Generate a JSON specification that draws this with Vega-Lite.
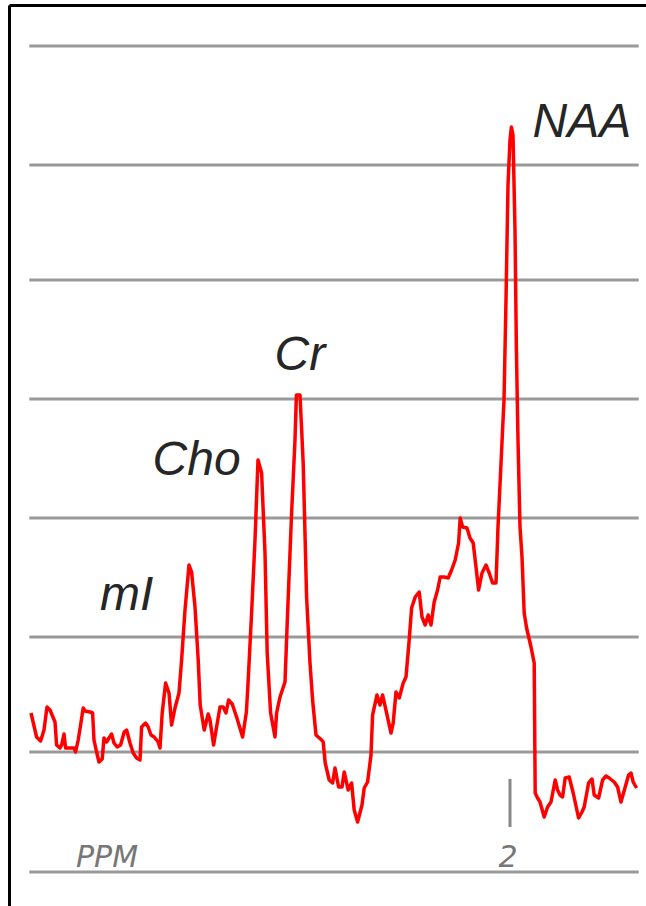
{
  "$schema": "https://vega.github.io/schema/vega-lite/v6.json",
  "width": 637,
  "height": 901,
  "autosize": {"type": "none"},
  "padding": {"left": 9, "top": 5, "right": 0, "bottom": 0},
  "background": "white",
  "config": {
    "view": {"stroke": null},
    "axis": {"title": null, "labels": false, "ticks": false, "grid": false,
             "domain": true, "domainColor": "#000000", "domainWidth": 3}
  },
  "datasets": {
    "grid": [
      {"amp": 706, "from": 4.4035, "to": 1.3565},
      {"amp": 587, "from": 4.4035, "to": 1.3565},
      {"amp": 472, "from": 4.4035, "to": 1.3565},
      {"amp": 353, "from": 4.4035, "to": 1.3565},
      {"amp": 234, "from": 4.4035, "to": 1.3565},
      {"amp": 115, "from": 4.4035, "to": 1.3565},
      {"amp": 0, "from": 4.4035, "to": 1.3565},
      {"amp": -120, "from": 4.4035, "to": 1.3565}
    ],
    "spectrum": [
      {"ppm": 4.395, "amp": 39}, {"ppm": 4.367, "amp": 15}, {"ppm": 4.347, "amp": 11}, {"ppm": 4.33, "amp": 22},
      {"ppm": 4.315, "amp": 45}, {"ppm": 4.3, "amp": 42}, {"ppm": 4.275, "amp": 30}, {"ppm": 4.267, "amp": 7},
      {"ppm": 4.25, "amp": 4}, {"ppm": 4.242, "amp": 7}, {"ppm": 4.23, "amp": 18}, {"ppm": 4.222, "amp": 4},
      {"ppm": 4.2, "amp": 4}, {"ppm": 4.179, "amp": 4}, {"ppm": 4.172, "amp": 0}, {"ppm": 4.159, "amp": 12},
      {"ppm": 4.147, "amp": 27}, {"ppm": 4.134, "amp": 44}, {"ppm": 4.125, "amp": 41}, {"ppm": 4.1, "amp": 40},
      {"ppm": 4.087, "amp": 39}, {"ppm": 4.08, "amp": 12}, {"ppm": 4.067, "amp": 0}, {"ppm": 4.055, "amp": -10},
      {"ppm": 4.039, "amp": -7}, {"ppm": 4.03, "amp": 14}, {"ppm": 4.017, "amp": 10}, {"ppm": 4.005, "amp": 14},
      {"ppm": 3.992, "amp": 18}, {"ppm": 3.98, "amp": 9}, {"ppm": 3.964, "amp": 5}, {"ppm": 3.947, "amp": 7},
      {"ppm": 3.929, "amp": 20}, {"ppm": 3.917, "amp": 22}, {"ppm": 3.9, "amp": 9}, {"ppm": 3.884, "amp": -1},
      {"ppm": 3.867, "amp": -6}, {"ppm": 3.85, "amp": -8}, {"ppm": 3.842, "amp": 25}, {"ppm": 3.822, "amp": 29},
      {"ppm": 3.809, "amp": 25}, {"ppm": 3.795, "amp": 17}, {"ppm": 3.779, "amp": 15}, {"ppm": 3.759, "amp": 10},
      {"ppm": 3.75, "amp": 4}, {"ppm": 3.739, "amp": 39}, {"ppm": 3.722, "amp": 69}, {"ppm": 3.705, "amp": 59},
      {"ppm": 3.692, "amp": 27}, {"ppm": 3.675, "amp": 44}, {"ppm": 3.655, "amp": 59}, {"ppm": 3.642, "amp": 92},
      {"ppm": 3.625, "amp": 142}, {"ppm": 3.605, "amp": 187}, {"ppm": 3.592, "amp": 180}, {"ppm": 3.575, "amp": 145},
      {"ppm": 3.559, "amp": 92}, {"ppm": 3.549, "amp": 47}, {"ppm": 3.529, "amp": 22}, {"ppm": 3.509, "amp": 38},
      {"ppm": 3.5, "amp": 32}, {"ppm": 3.482, "amp": 7}, {"ppm": 3.467, "amp": 25}, {"ppm": 3.45, "amp": 45},
      {"ppm": 3.434, "amp": 45}, {"ppm": 3.42, "amp": 39}, {"ppm": 3.407, "amp": 52}, {"ppm": 3.389, "amp": 48},
      {"ppm": 3.367, "amp": 35}, {"ppm": 3.337, "amp": 15}, {"ppm": 3.318, "amp": 40}, {"ppm": 3.309, "amp": 72},
      {"ppm": 3.292, "amp": 139}, {"ppm": 3.275, "amp": 212}, {"ppm": 3.26, "amp": 292}, {"ppm": 3.242, "amp": 279},
      {"ppm": 3.225, "amp": 199}, {"ppm": 3.214, "amp": 99}, {"ppm": 3.197, "amp": 39}, {"ppm": 3.175, "amp": 15},
      {"ppm": 3.167, "amp": 39}, {"ppm": 3.15, "amp": 55}, {"ppm": 3.125, "amp": 70}, {"ppm": 3.112, "amp": 139},
      {"ppm": 3.092, "amp": 239}, {"ppm": 3.075, "amp": 312}, {"ppm": 3.068, "amp": 357}, {"ppm": 3.05, "amp": 357},
      {"ppm": 3.034, "amp": 289}, {"ppm": 3.017, "amp": 155}, {"ppm": 3.0, "amp": 89}, {"ppm": 2.987, "amp": 52},
      {"ppm": 2.97, "amp": 17}, {"ppm": 2.942, "amp": 12}, {"ppm": 2.934, "amp": 10}, {"ppm": 2.924, "amp": -11},
      {"ppm": 2.904, "amp": -28}, {"ppm": 2.887, "amp": -31}, {"ppm": 2.875, "amp": -16}, {"ppm": 2.857, "amp": -35},
      {"ppm": 2.84, "amp": -35}, {"ppm": 2.829, "amp": -20}, {"ppm": 2.809, "amp": -38}, {"ppm": 2.792, "amp": -31},
      {"ppm": 2.779, "amp": -58}, {"ppm": 2.762, "amp": -70}, {"ppm": 2.74, "amp": -53}, {"ppm": 2.729, "amp": -36},
      {"ppm": 2.712, "amp": -30}, {"ppm": 2.695, "amp": -3}, {"ppm": 2.687, "amp": 37}, {"ppm": 2.665, "amp": 57},
      {"ppm": 2.65, "amp": 47}, {"ppm": 2.637, "amp": 57}, {"ppm": 2.617, "amp": 39}, {"ppm": 2.595, "amp": 19},
      {"ppm": 2.584, "amp": 29}, {"ppm": 2.57, "amp": 60}, {"ppm": 2.554, "amp": 54}, {"ppm": 2.534, "amp": 69},
      {"ppm": 2.52, "amp": 75}, {"ppm": 2.504, "amp": 112}, {"ppm": 2.492, "amp": 144}, {"ppm": 2.474, "amp": 155},
      {"ppm": 2.454, "amp": 160}, {"ppm": 2.44, "amp": 135}, {"ppm": 2.424, "amp": 127}, {"ppm": 2.409, "amp": 137},
      {"ppm": 2.395, "amp": 127}, {"ppm": 2.379, "amp": 150}, {"ppm": 2.362, "amp": 162}, {"ppm": 2.349, "amp": 175},
      {"ppm": 2.33, "amp": 175}, {"ppm": 2.309, "amp": 174}, {"ppm": 2.292, "amp": 182}, {"ppm": 2.274, "amp": 192},
      {"ppm": 2.257, "amp": 209}, {"ppm": 2.249, "amp": 234}, {"ppm": 2.237, "amp": 225}, {"ppm": 2.215, "amp": 224},
      {"ppm": 2.2, "amp": 214}, {"ppm": 2.184, "amp": 209}, {"ppm": 2.17, "amp": 185}, {"ppm": 2.157, "amp": 162},
      {"ppm": 2.14, "amp": 179}, {"ppm": 2.12, "amp": 187}, {"ppm": 2.104, "amp": 179}, {"ppm": 2.087, "amp": 169},
      {"ppm": 2.07, "amp": 169}, {"ppm": 2.06, "amp": 225}, {"ppm": 2.03, "amp": 352}, {"ppm": 2.02, "amp": 452},
      {"ppm": 2.01, "amp": 567}, {"ppm": 2.0, "amp": 612}, {"ppm": 1.993, "amp": 625}, {"ppm": 1.985, "amp": 617},
      {"ppm": 1.975, "amp": 522}, {"ppm": 1.968, "amp": 402}, {"ppm": 1.96, "amp": 312}, {"ppm": 1.95, "amp": 225},
      {"ppm": 1.94, "amp": 195}, {"ppm": 1.929, "amp": 139}, {"ppm": 1.917, "amp": 124}, {"ppm": 1.895, "amp": 105},
      {"ppm": 1.879, "amp": 89}, {"ppm": 1.874, "amp": -41}, {"ppm": 1.862, "amp": -46}, {"ppm": 1.85, "amp": -50},
      {"ppm": 1.829, "amp": -65}, {"ppm": 1.812, "amp": -55}, {"ppm": 1.795, "amp": -50}, {"ppm": 1.774, "amp": -28},
      {"ppm": 1.762, "amp": -38}, {"ppm": 1.75, "amp": -43}, {"ppm": 1.737, "amp": -45}, {"ppm": 1.724, "amp": -26},
      {"ppm": 1.704, "amp": -25}, {"ppm": 1.684, "amp": -41}, {"ppm": 1.657, "amp": -66}, {"ppm": 1.64, "amp": -60},
      {"ppm": 1.629, "amp": -55}, {"ppm": 1.607, "amp": -31}, {"ppm": 1.59, "amp": -27}, {"ppm": 1.579, "amp": -43},
      {"ppm": 1.557, "amp": -46}, {"ppm": 1.537, "amp": -28}, {"ppm": 1.52, "amp": -24}, {"ppm": 1.504, "amp": -26},
      {"ppm": 1.479, "amp": -30}, {"ppm": 1.462, "amp": -35}, {"ppm": 1.445, "amp": -50}, {"ppm": 1.424, "amp": -35},
      {"ppm": 1.407, "amp": -23}, {"ppm": 1.395, "amp": -21}, {"ppm": 1.384, "amp": -30}, {"ppm": 1.367, "amp": -36}
    ],
    "peaks": [
      {"ppm": 4.05, "amp": 142, "label": "mI"},
      {"ppm": 3.787, "amp": 277, "label": "Cho"},
      {"ppm": 3.177, "amp": 382, "label": "Cr"},
      {"ppm": 1.887, "amp": 615, "label": "NAA"}
    ],
    "tick": [{"ppm": 2.0, "top": -27, "bottom": -75, "label": "2", "labelAmp": -114.5}],
    "unit": [{"ppm": 4.17, "amp": -114.5, "label": "PPM"}]
  },
  "layer": [
    {
      "data": {"name": "grid"},
      "mark": {"type": "rule", "color": "#999999", "strokeWidth": 3},
      "encoding": {
        "x": {"field": "from", "type": "quantitative",
              "scale": {"domain": [4.505, 1.32], "nice": false, "zero": false},
              "axis": {"orient": "top"}},
        "x2": {"field": "to"},
        "y": {"field": "amp", "type": "quantitative",
              "scale": {"domain": [-154, 747], "nice": false, "zero": false},
              "axis": {"orient": "left"}}
      }
    },
    {
      "data": {"name": "spectrum"},
      "mark": {"type": "line", "color": "#ff0000", "strokeWidth": 3.5, "strokeJoin": "round"},
      "encoding": {
        "x": {"field": "ppm", "type": "quantitative", "axis": {"orient": "top"}},
        "y": {"field": "amp", "type": "quantitative", "axis": {"orient": "left"}}
      }
    },
    {
      "data": {"name": "tick"},
      "mark": {"type": "rule", "color": "#888888", "strokeWidth": 3},
      "encoding": {
        "x": {"field": "ppm", "type": "quantitative", "axis": {"orient": "top"}},
        "y": {"field": "top", "type": "quantitative", "axis": {"orient": "left"}},
        "y2": {"field": "bottom"}
      }
    },
    {
      "data": {"name": "tick"},
      "mark": {"type": "text", "font": "DejaVu Sans", "fontStyle": "italic", "fontSize": 30,
               "color": "#777777", "align": "center", "baseline": "alphabetic", "dx": -2},
      "encoding": {
        "x": {"field": "ppm", "type": "quantitative", "axis": {"orient": "top"}},
        "y": {"field": "labelAmp", "type": "quantitative", "axis": {"orient": "left"}},
        "text": {"field": "label"}
      }
    },
    {
      "data": {"name": "unit"},
      "mark": {"type": "text", "font": "DejaVu Sans", "fontStyle": "italic", "fontSize": 30,
               "color": "#777777", "align": "left", "baseline": "alphabetic"},
      "encoding": {
        "x": {"field": "ppm", "type": "quantitative", "axis": {"orient": "top"}},
        "y": {"field": "amp", "type": "quantitative", "axis": {"orient": "left"}},
        "text": {"field": "label"}
      }
    },
    {
      "data": {"name": "peaks"},
      "mark": {"type": "text", "font": "Liberation Sans", "fontStyle": "italic", "fontSize": 48,
               "color": "#262626", "align": "left", "baseline": "alphabetic"},
      "encoding": {
        "x": {"field": "ppm", "type": "quantitative", "axis": {"orient": "top"}},
        "y": {"field": "amp", "type": "quantitative", "axis": {"orient": "left"}},
        "text": {"field": "label"}
      }
    }
  ]
}
